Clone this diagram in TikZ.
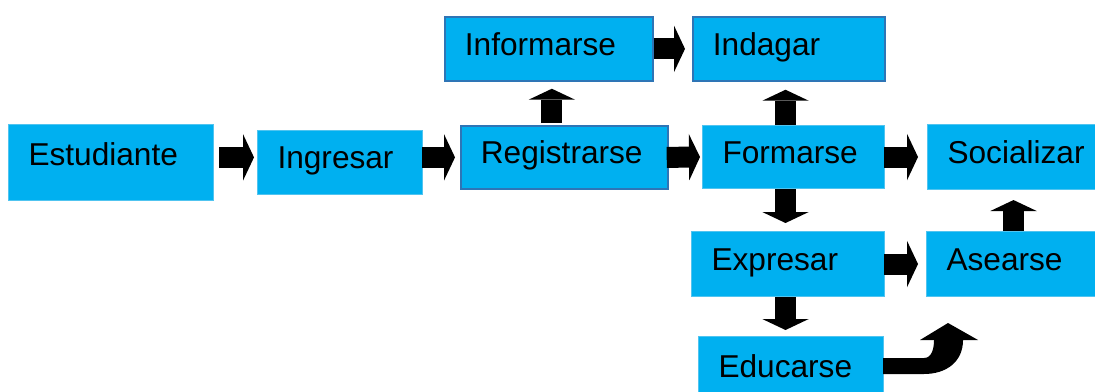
\documentclass[tikz,border=0pt]{standalone}
\usepackage{fontspec}
\setmainfont{Liberation Sans}
\usetikzlibrary{calc, positioning}
\usetikzlibrary{arrows.meta}

\definecolor{boxfill}{RGB}{0,176,240}
\definecolor{boxedge}{RGB}{80,196,240}
\definecolor{boxdark}{RGB}{46,117,182}

\tikzset{
  box/.style={fill=boxfill,draw=boxedge,line width=0.6pt,anchor=north west,
    inner xsep=0.4cm,inner ysep=0pt,align=left,text height=0.72em,text depth=0em,
    font=\fontsize{18}{21}\selectfont},
  darkbox/.style={box,draw=boxdark,line width=1pt},
  blockarrow/.style={line width=0.42cm,-{Triangle[length=0.22cm,width=0.93cm,line width=0pt]}}
}

\begin{document}
\begin{tikzpicture}[x=0.02cm,y=-0.02cm]
\useasboundingbox (0,0) rectangle (1095,392);
\clip (0,0) rectangle (1095,392);

\node[box,text width=3.30cm,minimum height=1.52cm,text depth=0.4em] (est) at (8,124) {Estudiante};
\node[box,text width=2.50cm,minimum height=1.28cm,text depth=-0.1em] (ing) at (257,130) {Ingresar};
\node[darkbox,text width=3.34cm,minimum height=1.26cm] (reg) at (460,125) {Registrarse};
\node[darkbox,text width=3.36cm,minimum height=1.28cm] (inf) at (444,16) {Informarse};
\node[darkbox,text width=3.04cm,minimum height=1.28cm] (ind) at (692,16) {Indagar};
\node[box,text width=2.84cm,minimum height=1.26cm] (frm) at (702,125) {Formarse};
\node[box,text width=2.80cm,minimum height=1.30cm] (soc) at (927,124) {Socializar};
\node[box,text width=3.06cm,minimum height=1.30cm] (exp) at (691,231) {Expresar};
\node[box,text width=2.80cm,minimum height=1.30cm] (ase) at (926,231) {Asearse};
\node[box,text width=2.90cm,minimum height=1.40cm] (edu) at (698,336) {Educarse};

\draw[blockarrow] ($(est.east |- reg.east)+(5,0)$) -- ($(ing.west |- reg.west)+(-3,0)$);
\draw[blockarrow] ($(ing.east |- reg.west)+(-1,0)$) -- ($(reg.west)+(-5,0)$);
\draw[blockarrow] ($(reg.east)+(-2,0)$) -- ($(frm.west)+(-2,0)$);
\draw[blockarrow] (inf.east) -- ($(ind.west)+(-7,0)$);
\draw[blockarrow] ($(frm.east)+(-1,0)$) -- ($(soc.west)+(-9,0)$);
\draw[blockarrow] ($(exp.east)+(-1,0)$) -- ($(ase.west)+(-8,0)$);

\draw[blockarrow] ($(inf.south |- reg.north)+(3,-2)$) -- ($(inf.south)+(3,7)$);
\draw[blockarrow] ($(frm.north)+(-8,0)$) -- ($(frm.north |- ind.south)+(-8,8)$);
\draw[blockarrow] ($(frm.south)+(-8,0)$) -- ($(frm.south |- exp.north)+(-8,-8)$);
\draw[blockarrow] ($(frm.south |- exp.south)+(-8,0)$) -- ($(frm.south |- edu.north)+(-8,-6)$);
\draw[blockarrow] ($(ase.north)+(-3,0)$) -- ($(ase.north |- soc.south)+(-3,10)$);

\fill[black] ($(edu.north east)+(-1,22)$) -- ++(41,0)
  .. controls +(8,0) and +(0,8) .. ++(10,-18) -- ++(-14,0) -- ++(28,-17)
  -- ++(30,17) -- ++(-15,0)
  .. controls +(0,22) and +(22,0) .. ++(-39,34) -- ++(-41,0) -- cycle;
\end{tikzpicture}
\end{document}
